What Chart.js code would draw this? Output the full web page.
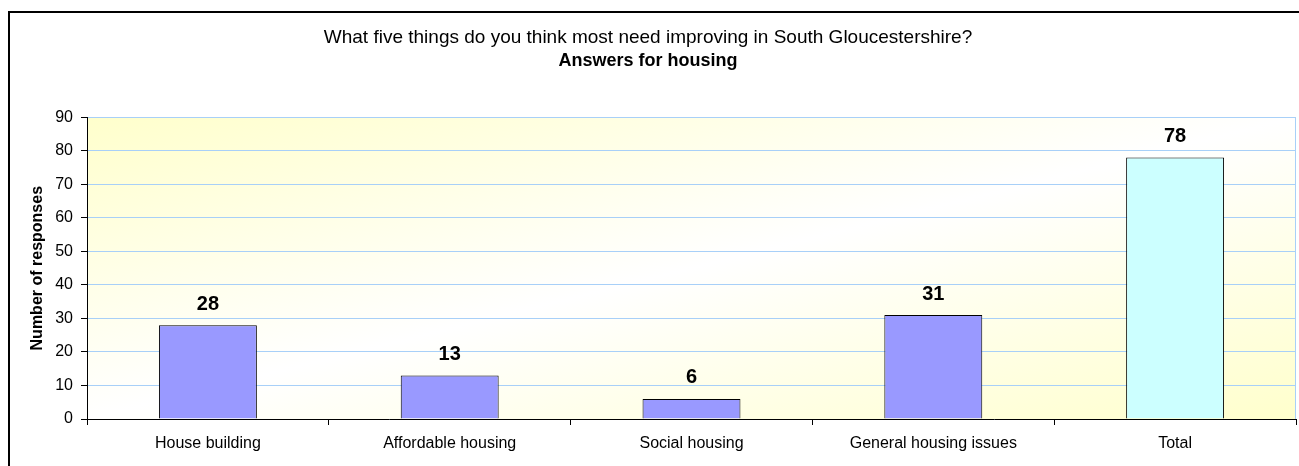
<!DOCTYPE html>
<html>
<head>
<meta charset="utf-8">
<script src="https://cdn.jsdelivr.net/npm/chart.js@4"></script>
<style>
  html, body { margin: 0; padding: 0; background: #fff; }
  #wrap { position: relative; width: 1299px; height: 466px; }
</style>
</head>
<body>
<div id="wrap"><canvas id="chart" width="1299" height="466"></canvas></div>
<script>
const categories = ["House building", "Affordable housing", "Social housing", "General housing issues", "Total"];
const responses = [28, 13, 6, 31, 78];
const barColors = ["#9999FF", "#9999FF", "#9999FF", "#9999FF", "#CCFFFF"];
const yTicks = { min: 0, max: 90, step: 10 };

const FONT = "'Liberation Sans', Arial, sans-serif";

// outer frame + gradient plot background
const backdrop = {
  id: "backdrop",
  beforeDraw(chart) {
    const { ctx, chartArea: a } = chart;
    ctx.save();
    ctx.strokeStyle = "#000";
    ctx.lineWidth = 2;
    ctx.beginPath();
    ctx.moveTo(9, 470);
    ctx.lineTo(9, 12);
    ctx.lineTo(1305, 12);
    ctx.stroke();

    // diagonal gradient in unit space so the white band runs corner to corner
    ctx.translate(a.left, a.top);
    ctx.scale(a.right - a.left, a.bottom - a.top);
    const g = ctx.createLinearGradient(0, 0, 1, 1);
    g.addColorStop(0, "#FFFFCC");
    g.addColorStop(0.5, "#FFFFFF");
    g.addColorStop(1, "#FFFFCC");
    ctx.fillStyle = g;
    ctx.fillRect(0, 0, 1, 1);
    ctx.restore();

    ctx.save();
    ctx.strokeStyle = "#A8D0F8";
    ctx.lineWidth = 1;
    ctx.beginPath();
    ctx.moveTo(a.right - 0.5, a.top);
    ctx.lineTo(a.right - 0.5, a.bottom);
    ctx.stroke();
    ctx.restore();
  }
};

// value labels above bars
const valueLabels = {
  id: "valueLabels",
  afterDatasetsDraw(chart) {
    const { ctx } = chart;
    const meta = chart.getDatasetMeta(0);
    ctx.save();
    ctx.font = "bold 20px " + FONT;
    ctx.fillStyle = "#000";
    ctx.textAlign = "center";
    ctx.textBaseline = "middle";
    meta.data.forEach((bar, i) => {
      ctx.fillText(String(responses[i]), bar.x, bar.y - 21);
    });
    ctx.restore();
  }
};

new Chart(document.getElementById("chart"), {
  type: "bar",
  data: {
    labels: categories,
    datasets: [{
      data: responses,
      backgroundColor: barColors,
      borderColor: "#000",
      borderWidth: 1,
      barPercentage: 0.405,
      categoryPercentage: 1
    }]
  },
  options: {
    responsive: false,
    animation: false,
    layout: { padding: { left: 0, right: 3, top: 0, bottom: 0 } },
    plugins: {
      legend: { display: false },
      tooltip: { enabled: false },
      title: {
        display: true,
        text: "What five things do you think most need improving in South Gloucestershire?",
        color: "#000",
        font: { family: FONT, size: 19, weight: "normal" },
        padding: { top: 26, bottom: 0 }
      },
      subtitle: {
        display: true,
        text: "Answers for housing",
        color: "#000",
        font: { family: FONT, size: 18, weight: "bold" },
        padding: { top: 1, bottom: 46 }
      }
    },
    scales: {
      x: {
        grid: {
          drawOnChartArea: false,
          drawTicks: true,
          tickLength: 6,
          tickColor: "#000",
          offset: true
        },
        border: { color: "#000", width: 1 },
        ticks: {
          color: "#000",
          font: { family: FONT, size: 16 },
          padding: 9,
          maxRotation: 0
        },
        afterFit(scale) { scale.height = 47; }
      },
      y: {
        min: yTicks.min,
        max: yTicks.max,
        ticks: {
          stepSize: yTicks.step,
          color: "#000",
          font: { family: FONT, size: 16 },
          padding: 8
        },
        grid: {
          color: "#A8D0F8",
          tickColor: "#000",
          tickLength: 6
        },
        border: { color: "#000", width: 1 },
        title: {
          display: true,
          text: "Number of responses",
          color: "#000",
          font: { family: FONT, size: 16, weight: "bold" },
          padding: { top: 28, bottom: 0 }
        },
        afterFit(scale) { scale.width = 87; }
      }
    }
  },
  plugins: [backdrop, valueLabels]
});
</script>
</body>
</html>
